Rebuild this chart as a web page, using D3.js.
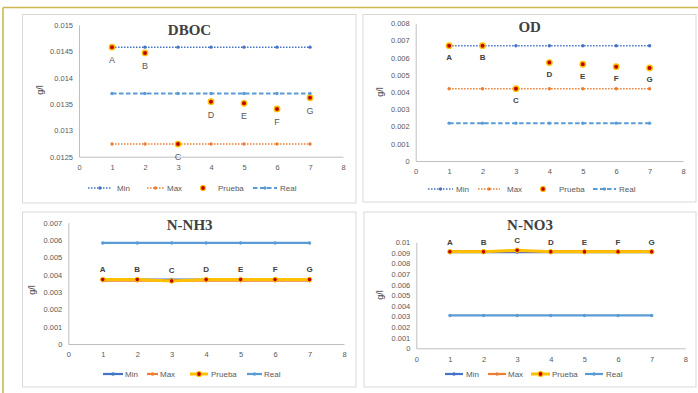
<!DOCTYPE html>
<html><head><meta charset="utf-8">
<script src="https://cdn.jsdelivr.net/npm/d3@7"></script>
<style>
html,body{margin:0;padding:0;background:#fff;}
svg{display:block;}
text{font-family:"Liberation Sans",Arial,sans-serif;}
</style></head>
<body><svg id="c" width="698" height="393"></svg>
<script>
// ---- data ----
const xValues = [1, 2, 3, 4, 5, 6, 7];
const pointLabels = ["A", "B", "C", "D", "E", "F", "G"];
const xTicks = [0, 1, 2, 3, 4, 5, 6, 7, 8];
const seriesNames = ["Min", "Max", "Prueba", "Real"];

const dbocMin = [0.01458, 0.01458, 0.01458, 0.01458, 0.01458, 0.01458, 0.01458];
const dbocMax = [0.01274, 0.01274, 0.01274, 0.01274, 0.01274, 0.01274, 0.01274];
const dbocPrueba = [0.01458, 0.01447, 0.01274, 0.013545, 0.013514, 0.013406, 0.01362];
const dbocReal = [0.0137, 0.0137, 0.0137, 0.0137, 0.0137, 0.0137, 0.0137];
const dbocTicks = [0.0125, 0.013, 0.0135, 0.014, 0.0145, 0.015];

const odMin = [0.0067, 0.0067, 0.0067, 0.0067, 0.0067, 0.0067, 0.0067];
const odMax = [0.0042, 0.0042, 0.0042, 0.0042, 0.0042, 0.0042, 0.0042];
const odPrueba = [0.0067, 0.0067, 0.0042, 0.00572, 0.00562, 0.00548, 0.00541];
const odReal = [0.0022, 0.0022, 0.0022, 0.0022, 0.0022, 0.0022, 0.0022];
const odTicks = [0, 0.001, 0.002, 0.003, 0.004, 0.005, 0.006, 0.007, 0.008];

const nh3Min = [0.00372, 0.00372, 0.00372, 0.00372, 0.00372, 0.00372, 0.00372];
const nh3Max = [0.00365, 0.00365, 0.00365, 0.00365, 0.00365, 0.00365, 0.00365];
const nh3Prueba = [0.00372, 0.00372, 0.00364, 0.00372, 0.00372, 0.00372, 0.00372];
const nh3Real = [0.00583, 0.00583, 0.00583, 0.00583, 0.00583, 0.00583, 0.00583];
const nh3Ticks = [0, 0.001, 0.002, 0.003, 0.004, 0.005, 0.006, 0.007];

const no3Min = [0.00907, 0.00907, 0.00907, 0.00907, 0.00907, 0.00907, 0.00907];
const no3Max = [0.00917, 0.00917, 0.00917, 0.00917, 0.00917, 0.00917, 0.00917];
const no3Prueba = [0.00911, 0.00911, 0.00925, 0.00911, 0.00911, 0.00911, 0.00911];
const no3Real = [0.0031, 0.0031, 0.0031, 0.0031, 0.0031, 0.0031, 0.0031];
const no3Ticks = [0, 0.001, 0.002, 0.003, 0.004, 0.005, 0.006, 0.007, 0.008, 0.009, 0.01];

// ---- styles ----
const C = {min: "#4472C4", max: "#ED7D31", real: "#5B9BD5", pFill: "#C00000", pStroke: "#FFC000",
  axis: "#BFBFBF", tick: "#595959", border: "#D9D9D9"};

const svg = d3.select("#c");

// outer page decorations
svg.append("line").attr("x1", 3).attr("x2", 698).attr("y1", 7.5).attr("y2", 7.5)
  .attr("stroke", "#C9B94E").attr("stroke-width", 1.6);
svg.append("line").attr("x1", 3).attr("x2", 3).attr("y1", 7.5).attr("y2", 393)
  .attr("stroke", "#C9B94E").attr("stroke-width", 1.6);

const panels = [
  {title: "DBOC", box: [22.5, 14.5, 356, 203], x: [79, 343], y: [156.7, 25], dom: [0.0125, 0.015],
   ticks: dbocTicks, data: [dbocMin, dbocMax, dbocPrueba, dbocReal], style: "top",
   titlePos: [189.5, 35], yTitle: [40, 90], legY: 188, labelDy: 16, labelBold: false,
   leg: [[88, 112, 116], [147, 164, 166], [203, 203, 217], [253, 277, 279]]},
  {title: "OD", box: [363, 14.5, 696, 202], x: [415.7, 683], y: [161, 23.3], dom: [0, 0.008],
   ticks: odTicks, data: [odMin, odMax, odPrueba, odReal], style: "top",
   titlePos: [529.7, 32.3], yTitle: [380, 92], legY: 189, labelDy: 14.5, labelBold: true,
   leg: [[428, 453, 455], [478, 500, 506], [543, 543, 558], [593, 616, 618]]},
  {title: "N-NH3", box: [22.5, 212, 356, 387], x: [68.3, 344], y: [344, 222.7], dom: [0, 0.007],
   ticks: nh3Ticks, data: [nh3Min, nh3Max, nh3Prueba, nh3Real], style: "bottom",
   titlePos: [189.7, 230], yTitle: [32, 290], legY: 374, labelDy: -7.5, labelBold: true,
   leg: [[103, 123, 124], [147, 158, 159], [190, 208, 210], [247, 262, 263]]},
  {title: "N-NO3", box: [364, 212, 696, 387], x: [416.3, 685.3], y: [348.3, 242.3], dom: [0, 0.01],
   ticks: no3Ticks, data: [no3Min, no3Max, no3Prueba, no3Real], style: "bottom",
   titlePos: [530, 230], yTitle: [380, 295], legY: 374, labelDy: -7, labelBold: true,
   leg: [[445, 463, 465], [488, 506, 507], [531, 550, 551], [585, 603, 605]]}
];

function seriesStyle(i, style) {
  const col = [C.min, C.max, C.pStroke, C.real][i];
  if (style === "top") {
    if (i === 0) return {col, w: 1.5, dash: "1.5,1.5", line: true};
    if (i === 1) return {col, w: 1.5, dash: "1.5,1.5", line: true};
    if (i === 2) return {col, w: 0, dash: null, line: false};
    return {col, w: 2, dash: "4.5,2.5", line: true};
  } else {
    if (i === 2) return {col, w: 3, dash: null, line: true};
    return {col, w: 2.2, dash: null, line: true};
  }
}

panels.forEach(p => {
  const g = svg.append("g");
  g.append("rect").attr("x", p.box[0]).attr("y", p.box[1])
    .attr("width", p.box[2] - p.box[0]).attr("height", p.box[3] - p.box[1])
    .attr("fill", "#fff").attr("stroke", C.border).attr("stroke-width", 1);

  const xs = d3.scaleLinear().domain([0, 8]).range(p.x);
  const ys = d3.scaleLinear().domain(p.dom).range(p.y);

  // axes
  const ya = g.append("g").attr("transform", `translate(${p.x[0]},0)`)
    .call(d3.axisLeft(ys).tickValues(p.ticks).tickSize(0).tickPadding(6).tickFormat(d => String(d)));
  ya.select(".domain").attr("stroke", C.axis);
  ya.selectAll("text").attr("fill", C.tick).style("font-size", "7.5px");

  const xa = g.append("g").attr("transform", `translate(0,${p.y[0]})`)
    .call(d3.axisBottom(xs).tickValues(xTicks).tickSize(0).tickPadding(8).tickFormat(d => String(d)));
  xa.select(".domain").attr("stroke", C.axis);
  xa.selectAll("text").attr("fill", C.tick).style("font-size", "7.5px");

  // title
  g.append("text").attr("x", p.titlePos[0]).attr("y", p.titlePos[1]).attr("text-anchor", "middle")
    .style("font-family", "'Liberation Serif','Times New Roman',serif").style("font-weight", "bold")
    .style("font-size", "15px").attr("fill", "#404040").text(p.title);

  // y title
  g.append("text").attr("transform", `translate(${p.yTitle[0] + 3},${p.yTitle[1]}) rotate(-90)`)
    .attr("text-anchor", "middle").style("font-size", "9px").attr("fill", "#404040").text("g/l");

  // series
  const order = [0, 1, 2, 3];
  order.forEach(i => {
    const vals = p.data[i];
    const st = seriesStyle(i, p.style);
    const pts = xValues.map((x, k) => [xs(x), ys(vals[k])]);
    if (st.line) {
      g.append("path").attr("d", d3.line()(pts)).attr("fill", "none")
        .attr("stroke", st.col).attr("stroke-width", st.w)
        .attr("stroke-dasharray", st.dash).attr("stroke-linejoin", "round");
    }
    if (i === 2) {
      g.selectAll(null).data(pts).enter().append("circle")
        .attr("cx", d => d[0]).attr("cy", d => d[1]).attr("r", p.style === "top" ? 2.7 : 2.3)
        .attr("fill", C.pFill).attr("stroke", C.pStroke).attr("stroke-width", p.style === "top" ? 1.4 : 1);
    } else {
      g.selectAll(null).data(pts).enter().append("circle")
        .attr("cx", d => d[0]).attr("cy", d => d[1]).attr("r", 1.7).attr("fill", st.col);
    }
  });

  // point labels
  const pr = p.data[2];
  g.selectAll(null).data(xValues).enter().append("text")
    .attr("x", d => xs(d)).attr("y", (d, k) => ys(pr[k]) + p.labelDy)
    .attr("text-anchor", "middle").style("font-size", p.labelBold ? "8px" : "9px")
    .style("font-weight", p.labelBold ? "bold" : "normal")
    .attr("fill", p.labelBold ? "#404040" : "#595959")
    .text((d, k) => pointLabels[k]);

  // legend
  seriesNames.forEach((name, i) => {
    const st = seriesStyle(i, p.style);
    const [a, b, tx] = p.leg[i];
    const y = p.legY;
    if (st.line) {
      g.append("line").attr("x1", a).attr("x2", b).attr("y1", y).attr("y2", y)
        .attr("stroke", st.col).attr("stroke-width", st.w).attr("stroke-dasharray", st.dash);
    }
    const cx = (a + b) / 2;
    if (i === 2) {
      g.append("circle").attr("cx", cx).attr("cy", y).attr("r", 2.5)
        .attr("fill", C.pFill).attr("stroke", C.pStroke).attr("stroke-width", 1.2);
    } else {
      g.append("circle").attr("cx", cx).attr("cy", y).attr("r", 1.7).attr("fill", st.col);
    }
    g.append("text").attr("x", tx + 1).attr("y", y + 3).style("font-size", "8px")
      .attr("fill", C.tick).text(name);
  });
});
</script></body></html>
